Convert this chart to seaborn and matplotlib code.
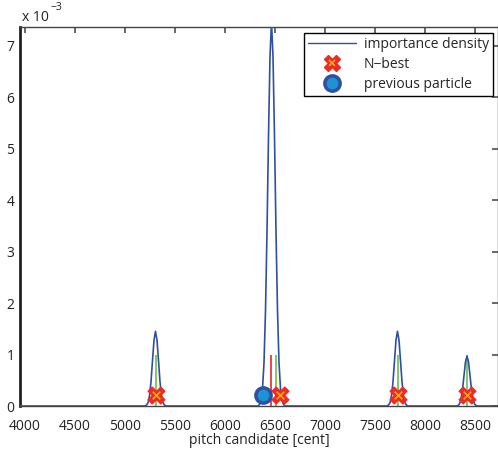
import numpy as np
import pandas as pd
import seaborn as sns
import matplotlib.pyplot as plt
from matplotlib.lines import Line2D

# importance density curve (y in units of 1e-3)
flat_x = [3950, 8750]
peak1_x = [5200, 5215, 5230, 5245, 5260, 5275, 5290, 5305, 5320, 5335, 5350, 5365, 5380, 5395, 5410]
peak1_y = [0.00, 0.02, 0.06, 0.20, 0.47, 0.88, 1.28, 1.45, 1.28, 0.88, 0.47, 0.20, 0.06, 0.02, 0.00]
peak2_x = [6330, 6345, 6360, 6375, 6390, 6405, 6420, 6435, 6450, 6465, 6480, 6495, 6510, 6525,
           6540, 6555, 6570, 6585, 6600]
peak2_y = [0.00, 0.03, 0.11, 0.33, 0.84, 1.85, 3.39, 5.23, 6.79, 7.45, 6.79, 5.23, 3.39, 1.85,
           0.84, 0.33, 0.11, 0.03, 0.00]
peak3_x = [7620, 7635, 7650, 7665, 7680, 7695, 7710, 7725, 7740, 7755, 7770, 7785, 7800, 7815, 7830]
peak3_y = [0.00, 0.02, 0.06, 0.20, 0.47, 0.88, 1.28, 1.45, 1.28, 0.88, 0.47, 0.20, 0.06, 0.02, 0.00]
peak4_x = [8315, 8330, 8345, 8360, 8375, 8390, 8405, 8420, 8435, 8450, 8465, 8480, 8495, 8510, 8525]
peak4_y = [0.00, 0.01, 0.04, 0.13, 0.32, 0.59, 0.86, 0.97, 0.86, 0.59, 0.32, 0.13, 0.04, 0.01, 0.00]

# stems
green_x = [5307, 6507, 7727, 8422]
green_h = [1.0, 1.0, 1.0, 1.0]
red_x = [6457]
red_h = [1.0]

# markers
nbest_x = [5310, 6550, 7730, 8420]
nbest_y = [0.22, 0.22, 0.22, 0.22]
prev_x = [6385]
prev_y = [0.22]

curve = pd.DataFrame({
    'x': [flat_x[0]] + peak1_x + peak2_x + peak3_x + peak4_x + [flat_x[1]],
    'y': [0.0] + peak1_y + peak2_y + peak3_y + peak4_y + [0.0],
})

sns.set_theme(style="white")
plt.rcParams['font.family'] = ['Open Sans', 'DejaVu Sans']

blue = '#2f4fa2'
red = '#ee2a24'
orange = '#f7a51b'
fig = plt.figure(figsize=(4.98, 4.53), dpi=100)
ax = fig.add_axes([20 / 498, 47 / 453, 478 / 498, 379 / 453])

ax.vlines(green_x, 0, green_h, color='#6cbf4a', lw=1.2, zorder=2)
ax.vlines(red_x, 0, red_h, color='#e8262a', lw=1.2, zorder=2)
sns.lineplot(data=curve, x='x', y='y', ax=ax, color=blue, lw=1.2, sort=False, zorder=3)

sns.scatterplot(x=nbest_x, y=nbest_y, ax=ax, marker='X', s=150, color=red,
                edgecolor=red, linewidth=0.8, zorder=5)
sns.scatterplot(x=nbest_x, y=nbest_y, ax=ax, marker='x', s=30, color=orange,
                linewidth=1.2, zorder=6)
sns.scatterplot(x=prev_x, y=prev_y, ax=ax, marker='o', s=120, color='#1f93d1',
                edgecolor=blue, linewidth=2.5, zorder=5)

ax.set_xlim(3950, 8730)
ax.set_ylim(0, 7.36)
ax.set_xticks(np.arange(4000, 8501, 500))
ax.set_yticks(np.arange(0, 8, 1))
ax.tick_params(direction='in', length=4, top=True, right=True, labelsize=10,
               colors='#555555', labelcolor='#222222')
ax.tick_params(axis='x', pad=9)
ax.tick_params(axis='y', pad=4)
for side in ['top', 'right', 'bottom']:
    ax.spines[side].set_color('#444444')
    ax.spines[side].set_linewidth(1)
ax.spines['left'].set_color('#222222')
ax.spines['left'].set_linewidth(2)

ax.set_xlabel('pitch candidate [cent]', fontsize=10, color='#222222', labelpad=0)
ax.set_ylabel('')

ax.text(0.004, 1.005, 'x 10', transform=ax.transAxes, fontsize=10, color='#222222',
        ha='left', va='bottom')
ax.text(0.063, 1.037, '\u22123', transform=ax.transAxes, fontsize=7.5, color='#222222',
        ha='left', va='bottom')

h_line = Line2D([], [], color=blue, lw=1)
h_nbest = (Line2D([], [], ls='', marker='X', ms=12, color=red),
           Line2D([], [], ls='', marker='x', ms=5, color=orange, mew=1.2))
h_prev = Line2D([], [], ls='', marker='o', ms=11, markerfacecolor='#1f93d1',
                markeredgecolor=blue, mew=2.5)
leg = ax.legend([h_line, h_nbest, h_prev], ['importance density', 'N\u2212best', 'previous particle'],
                loc='upper right', bbox_to_anchor=(0.99, 0.985), fontsize=10, frameon=True,
                fancybox=False, framealpha=1, edgecolor='black', handlelength=3.4,
                borderpad=0.3, labelspacing=0.35, handletextpad=0.6, borderaxespad=0)
leg.get_frame().set_linewidth(1)

fig.savefig('out.png', dpi=100)
